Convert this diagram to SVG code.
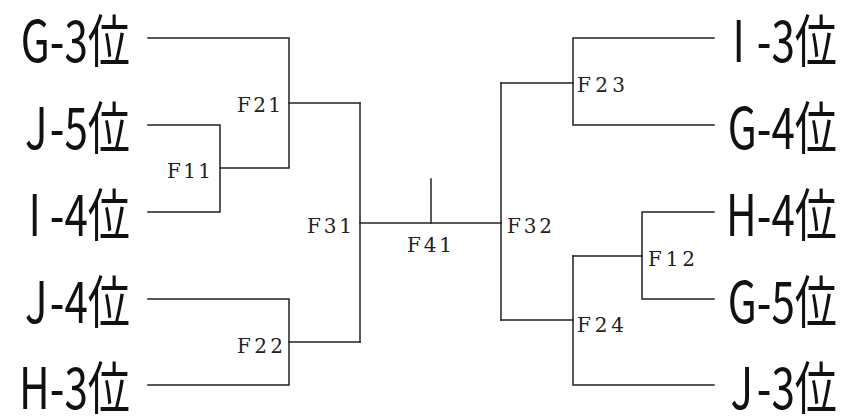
<svg xmlns="http://www.w3.org/2000/svg" width="842" height="417" viewBox="0 0 842 417">
<style>
.ln{fill:none;stroke:#222;stroke-width:1.5;stroke-linecap:square}
.big{font-family:"Noto Sans CJK JP","Noto Sans",sans-serif;font-size:57px;fill:#111;text-anchor:end}
.sm{font-family:"DejaVu Serif","Liberation Serif",serif;font-size:20px;fill:#222}
</style>
<rect width="842" height="417" fill="#fff"/>
<g id="connectors" class="ln">
<path d="M148 38H289V168H220"/>
<path d="M148 125H220V212H148"/>
<path d="M289 103H360"/>
<path d="M148 299H289V385H148"/>
<path d="M289 342H360"/>
<path d="M360 103V342"/>
<path d="M360 223H501"/>
<path d="M431 179V223"/>
<path d="M501 83V320"/>
<path d="M501 83H573"/>
<path d="M714 38H573V125H714"/>
<path d="M501 320H573"/>
<path d="M573 256V385H714"/>
<path d="M573 256H642"/>
<path d="M714 212H642V299H714"/>
</g>
<g transform="scale(0.74 1)">
<g id="G3"><text class="big" x="175.7" y="62">G-3位</text></g>
<g id="J5"><text class="big" x="175.7" y="149">J<tspan dx="3">-5位</tspan></text></g>
<g id="I4"><text class="big" x="175.7" y="236">I<tspan dx="12">-4位</tspan></text></g>
<g id="J4"><text class="big" x="175.7" y="323">J<tspan dx="3">-4位</tspan></text></g>
<g id="H3"><text class="big" x="175.7" y="409">H-3位</text></g>
<g id="I3"><text class="big" x="1131.1" y="62">I<tspan dx="16">-3位</tspan></text></g>
<g id="G4"><text class="big" x="1131.1" y="149">G-4位</text></g>
<g id="H4"><text class="big" x="1131.1" y="236">H-4位</text></g>
<g id="G5"><text class="big" x="1131.1" y="323">G-5位</text></g>
<g id="J3"><text class="big" x="1131.1" y="409">J<tspan dx="5">-3位</tspan></text></g>
</g>
<g id="F11"><text class="sm" x="167" y="178" textLength="44" lengthAdjust="spacing">F11</text></g>
<g id="F21"><text class="sm" x="237" y="112" textLength="44" lengthAdjust="spacing">F21</text></g>
<g id="F22"><text class="sm" x="237" y="353" textLength="46" lengthAdjust="spacing">F22</text></g>
<g id="F31"><text class="sm" x="307" y="233" textLength="45" lengthAdjust="spacing">F31</text></g>
<g id="F41"><text class="sm" x="407" y="252" textLength="45" lengthAdjust="spacing">F41</text></g>
<g id="F32"><text class="sm" x="507" y="233" textLength="45" lengthAdjust="spacing">F32</text></g>
<g id="F23"><text class="sm" x="577" y="92" textLength="48" lengthAdjust="spacing">F23</text></g>
<g id="F12"><text class="sm" x="648" y="266" textLength="47" lengthAdjust="spacing">F12</text></g>
<g id="F24"><text class="sm" x="577" y="332" textLength="47" lengthAdjust="spacing">F24</text></g>
</svg>
